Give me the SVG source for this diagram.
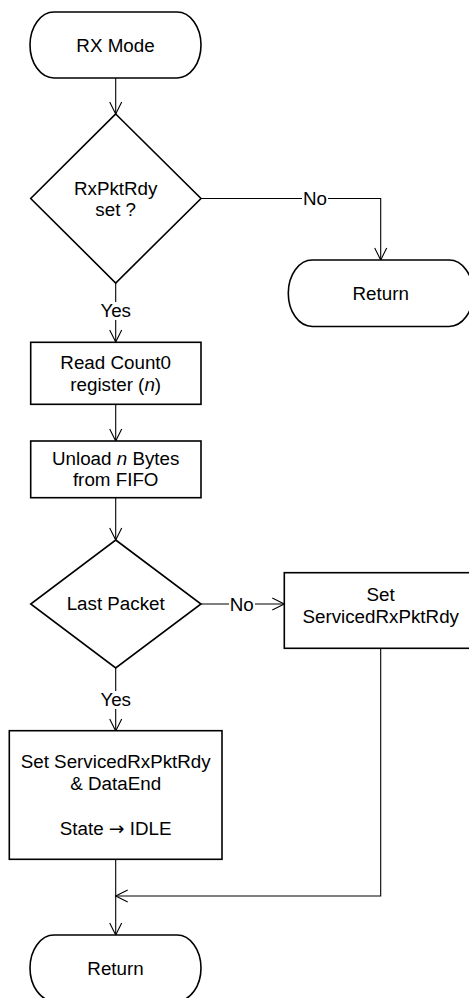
<svg xmlns="http://www.w3.org/2000/svg" width="469" height="998" viewBox="0 0 469 998">
<style>
.shape{fill:#fff;stroke:#000;stroke-width:1.6}
.conn{fill:none;stroke:#000;stroke-width:1.1}
text{font-family:"Liberation Sans",Arial,sans-serif;font-size:18.8px;fill:#000;text-anchor:middle}
.bg{fill:#fff;stroke:none}
.sym{font-family:"DejaVu Sans",sans-serif}
</style>
<defs>
<marker id="arr" markerUnits="userSpaceOnUse" markerWidth="16" markerHeight="16" viewBox="-14 -8 16 16" refX="0" refY="0" orient="auto">
<path d="M-12,-6 L0,0 L-12,6" fill="none" stroke="#000" stroke-width="1.1"/>
</marker>
</defs>
<g id="connectors">
<path class="conn" d="M115.7,78 V114" marker-end="url(#arr)"/>
<path class="conn" d="M201,198.5 H380.7 V260" marker-end="url(#arr)"/>
<path class="conn" d="M115.7,283 V342" marker-end="url(#arr)"/>
<path class="conn" d="M115.7,404 V441" marker-end="url(#arr)"/>
<path class="conn" d="M115.7,498 V540" marker-end="url(#arr)"/>
<path class="conn" d="M201,604 H284.3" marker-end="url(#arr)"/>
<path class="conn" d="M115.7,668 V731" marker-end="url(#arr)"/>
<path class="conn" d="M380.7,648 V896 H115.7" marker-end="url(#arr)"/>
<path class="conn" d="M115.7,859 V935" marker-end="url(#arr)"/>
<rect class="bg" x="302" y="190" width="26" height="17"/>
<text x="315" y="205">No</text>
<rect class="bg" x="99" y="302" width="33" height="18"/>
<text x="115.7" y="317">Yes</text>
<rect class="bg" x="229" y="595" width="26" height="17"/>
<text x="241.7" y="610.5">No</text>
<rect class="bg" x="99" y="691" width="33" height="18"/>
<text x="115.7" y="706">Yes</text>
</g>
<g id="rx_mode">
<rect class="shape" x="30" y="12" width="171" height="66" rx="24" ry="33"/>
<text x="115.5" y="51.7">RX Mode</text>
</g>
<g id="rxpktrdy_decision">
<polygon class="shape" points="115.7,114 201,198.5 115.7,283 30.7,198.5"/>
<text x="115.7" y="194.5">RxPktRdy</text>
<text x="115.7" y="216">set ?</text>
</g>
<g id="return_top">
<rect class="shape" x="288.3" y="260" width="184.8" height="66.5" rx="24" ry="33"/>
<text x="380.7" y="299.5">Return</text>
</g>
<g id="read_count0">
<rect class="shape" x="30.7" y="342.3" width="170.3" height="62"/>
<text x="115.7" y="368.5">Read Count0</text>
<text x="115.7" y="390.5">register (<tspan font-style="italic">n</tspan>)</text>
</g>
<g id="unload">
<rect class="shape" x="30.7" y="441" width="170.3" height="56.7"/>
<text x="115.7" y="464.5">Unload <tspan font-style="italic">n</tspan> Bytes</text>
<text x="115.7" y="485.5">from FIFO</text>
</g>
<g id="last_packet_decision">
<polygon class="shape" points="115.7,540 201,604 115.7,668 30.7,604"/>
<text x="115.7" y="610">Last Packet</text>
</g>
<g id="set_serviced">
<rect class="shape" x="284.3" y="572.7" width="193" height="75.6"/>
<text x="380.7" y="600.7">Set</text>
<text x="380.7" y="622.7">ServicedRxPktRdy</text>
</g>
<g id="set_serviced_dataend">
<rect class="shape" x="9.3" y="730.7" width="212.7" height="128.6"/>
<text x="115.7" y="768">Set ServicedRxPktRdy</text>
<text x="115.7" y="790">&amp; DataEnd</text>
<text x="115.7" y="835">State <tspan class="sym">→</tspan> IDLE</text>
</g>
<g id="return_bottom">
<rect class="shape" x="30" y="935" width="171" height="66" rx="24" ry="33"/>
<text x="115.5" y="974.7">Return</text>
</g>
</svg>
